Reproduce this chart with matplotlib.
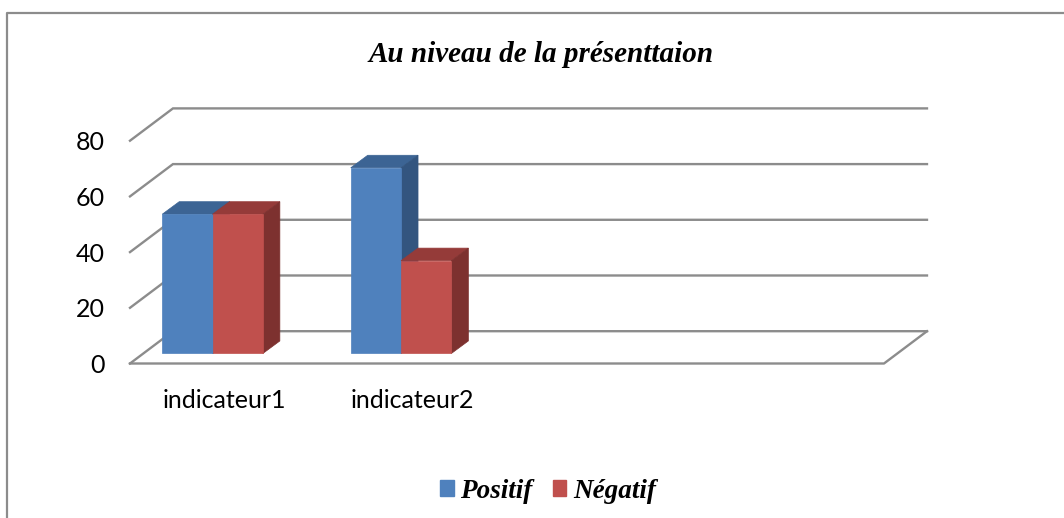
# -*- coding: utf-8 -*-
"""
"""
import matplotlib.pyplot as plt
from matplotlib.lines import Line2D
from matplotlib.patches import Patch, Polygon

categories = ['indicateur1', 'indicateur2', '', '']
positif = [50, 66.67]
negatif = [50, 33.33]
yticks = [0, 20, 40, 60, 80]
title = 'Au niveau de la présenttaion'

W, H = 1064, 518
BLUE = ('#4f81bd', '#3c6494', '#33557f')
RED = ('#c0504d', '#953b39', '#7d312f')
GREY = '#8c8c8c'

# oblique depth of the chart box and of the bars, in data units
box_dx, box_dy = 0.228, 11.6
bar_dx, bar_dy = 0.09, 4.5
bar_w = 0.267
bar_base = 3.6
group_shift = -0.062

serif = dict(family='Liberation Serif', weight='bold', style='italic')

fig = plt.figure(figsize=(W / 100, H / 100), dpi=100)
ax = fig.add_axes([130 / W, 1 - 363.5 / H, 754 / W, 222.8 / H])
ax.set_xlim(0, len(categories))
ax.set_ylim(0, 80)
for spine in ax.spines.values():
    spine.set_visible(False)
ax.patch.set_visible(False)

# grid lines: side wall and back wall
xmax = len(categories)
for v in yticks:
    ax.plot([0, box_dx, xmax + box_dx], [v, v + box_dy, v + box_dy],
            color=GREY, lw=1.7, clip_on=False, zorder=1,
            solid_joinstyle='miter')
# floor
ax.plot([0, xmax, xmax + box_dx], [0, 0, box_dy],
        color=GREY, lw=1.7, clip_on=False, zorder=1)


def draw_bar(x0, value, colors, z):
    x1 = x0 + bar_w
    top = bar_base + value
    ax.bar(x0, value, bar_w, bottom=bar_base, align='edge', color=colors[0],
           edgecolor=colors[0], linewidth=0.5, clip_on=False, zorder=z + 0.2)
    ax.add_patch(Polygon([(x0, top), (x1, top), (x1 + bar_dx, top + bar_dy),
                          (x0 + bar_dx, top + bar_dy)],
                         fc=colors[1], ec=colors[1], lw=0.5, clip_on=False,
                         zorder=z))
    ax.add_patch(Polygon([(x1, bar_base), (x1 + bar_dx, bar_base + bar_dy),
                          (x1 + bar_dx, top + bar_dy), (x1, top)],
                         fc=colors[2], ec=colors[2], lw=0.5, clip_on=False,
                         zorder=z + 0.1))


for i in range(len(positif)):
    center = i + 0.5 + group_shift
    draw_bar(center - bar_w, positif[i], BLUE, 2)
    draw_bar(center, negatif[i], RED, 3)

ax.set_yticks(yticks)
ax.set_xticks([i + 0.5 for i in range(len(categories))])
ax.set_xticklabels(categories)
ax.tick_params(axis='both', length=0, labelsize=18, labelcolor='black')
ax.tick_params(axis='y', pad=18)
ax.tick_params(axis='x', pad=18)
for lab in ax.get_xticklabels() + ax.get_yticklabels():
    lab.set_family('Lato')

# outer frame, cut off on the right and at the bottom
fig.add_artist(Line2D([7 / W, 7 / W, 1], [0, 1 - 13 / H, 1 - 13 / H],
                      color=GREY, lw=1.6))

fig.text(541.5 / W, 1 - 54 / H, title, ha='center', va='center',
         fontsize=21, **serif)

handles = [Patch(color=BLUE[0], label='Positif'),
           Patch(color=RED[0], label='Négatif')]
fig.legend(handles=handles, ncol=2, frameon=False, loc='center',
           bbox_to_anchor=(548 / W, 1 - 491 / H), handlelength=0.5,
           handleheight=0.5, handletextpad=0.25, columnspacing=0.75,
           prop=dict(size=19.5, **serif))

fig.savefig('out.png', dpi=100)
